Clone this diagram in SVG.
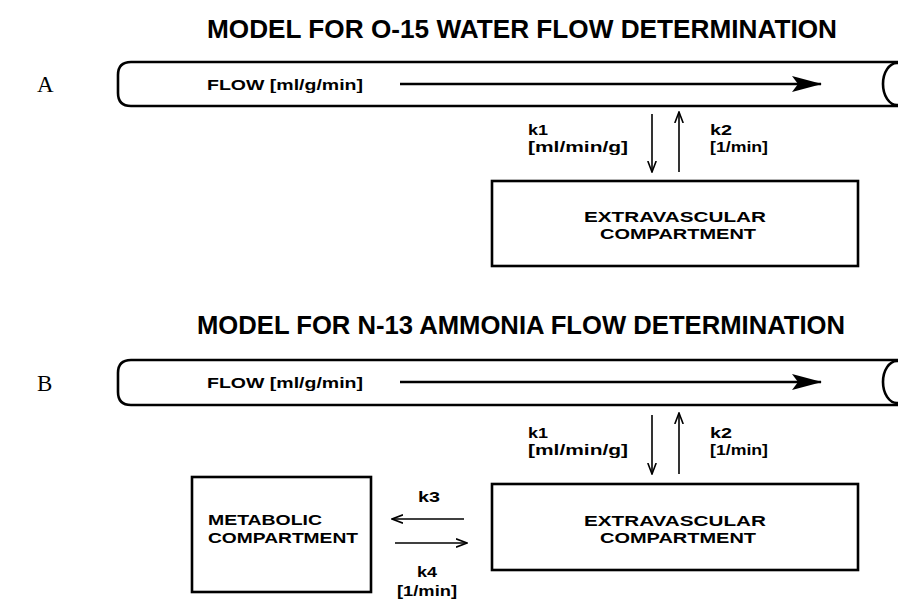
<svg xmlns="http://www.w3.org/2000/svg" width="898" height="601" viewBox="0 0 898 601">
<defs>
<style>
.t{font-family:"Liberation Sans",Arial,sans-serif;font-weight:bold;fill:#000}
.ttl{font-size:26px}
.lab{font-size:14px}
.big{font-family:"Liberation Serif","Times New Roman",serif;font-size:23px;fill:#000}
.ln{stroke:#000;fill:none;stroke-width:2.6}
.thin{stroke:#000;fill:none;stroke-width:1.6}
.box{stroke:#000;fill:#fff;stroke-width:2.6}
</style>
<marker id="flowHead" viewBox="0 0 30 18" refX="29" refY="9" markerWidth="30" markerHeight="18" markerUnits="userSpaceOnUse" orient="auto">
<path d="M0,1 L30,9 L0,17 L6,9 Z" fill="#000"/>
</marker>
<marker id="kHead" viewBox="0 0 12 10" refX="11" refY="5" markerWidth="12" markerHeight="10" markerUnits="userSpaceOnUse" orient="auto">
<path d="M0,0.8 L11,5 L0,9.2" fill="none" stroke="#000" stroke-width="1.6"/>
</marker>
</defs>
<rect width="898" height="601" fill="#fff"/>

<g id="panelA">
<text class="t ttl" x="522" y="38" text-anchor="middle" textLength="630" lengthAdjust="spacingAndGlyphs">MODEL FOR O-15 WATER FLOW DETERMINATION</text>
<text class="big" x="37" y="92">A</text>
<g id="tubeA">
<path class="ln" d="M898,62 H131 Q118,62 118,75 V93 Q118,106 131,106 H898"/>
<ellipse class="ln" cx="897" cy="84" rx="14" ry="21"/>
<text class="t" x="207" y="90" font-size="15" textLength="156" lengthAdjust="spacingAndGlyphs">FLOW [ml/g/min]</text>
</g>
<g id="extraA">
<rect class="box" x="492" y="181" width="366" height="85"/>
<text class="t" x="675" y="222" font-size="15" text-anchor="middle" textLength="182" lengthAdjust="spacingAndGlyphs">EXTRAVASCULAR</text>
<text class="t" x="678" y="239" font-size="15" text-anchor="middle" textLength="156" lengthAdjust="spacingAndGlyphs">COMPARTMENT</text>
</g>
<g id="labelsA">
<text class="t lab" x="528" y="135" textLength="20" lengthAdjust="spacingAndGlyphs">k1</text>
<text class="t lab" x="528" y="152" textLength="100" lengthAdjust="spacingAndGlyphs">[ml/min/g]</text>
<text class="t lab" x="710" y="135" textLength="22" lengthAdjust="spacingAndGlyphs">k2</text>
<text class="t lab" x="710" y="152" textLength="58" lengthAdjust="spacingAndGlyphs">[1/min]</text>
</g>
</g>

<g id="panelB">
<text class="t ttl" x="521" y="334" text-anchor="middle" textLength="648" lengthAdjust="spacingAndGlyphs">MODEL FOR N-13 AMMONIA FLOW DETERMINATION</text>
<text class="big" x="37" y="391">B</text>
<g id="tubeB">
<path class="ln" d="M898,360 H131 Q118,360 118,373 V392 Q118,405 131,405 H898"/>
<ellipse class="ln" cx="897" cy="382" rx="14" ry="21"/>
<text class="t" x="207" y="388" font-size="15" textLength="156" lengthAdjust="spacingAndGlyphs">FLOW [ml/g/min]</text>
</g>
<g id="extraB">
<rect class="box" x="492" y="484" width="366" height="86"/>
<text class="t" x="675" y="526" font-size="15" text-anchor="middle" textLength="182" lengthAdjust="spacingAndGlyphs">EXTRAVASCULAR</text>
<text class="t" x="678" y="543" font-size="15" text-anchor="middle" textLength="156" lengthAdjust="spacingAndGlyphs">COMPARTMENT</text>
</g>
<g id="metabolic">
<rect class="box" x="192" y="477" width="179" height="115"/>
<text class="t" x="208" y="525" font-size="15" textLength="114" lengthAdjust="spacingAndGlyphs">METABOLIC</text>
<text class="t" x="208" y="543" font-size="15" textLength="150" lengthAdjust="spacingAndGlyphs">COMPARTMENT</text>
</g>
<g id="labelsB">
<text class="t lab" x="528" y="438" textLength="20" lengthAdjust="spacingAndGlyphs">k1</text>
<text class="t lab" x="528" y="455" textLength="100" lengthAdjust="spacingAndGlyphs">[ml/min/g]</text>
<text class="t lab" x="710" y="438" textLength="22" lengthAdjust="spacingAndGlyphs">k2</text>
<text class="t lab" x="710" y="455" textLength="58" lengthAdjust="spacingAndGlyphs">[1/min]</text>
<text class="t lab" x="418" y="502" textLength="22" lengthAdjust="spacingAndGlyphs">k3</text>
<text class="t lab" x="417" y="577" textLength="20" lengthAdjust="spacingAndGlyphs">k4</text>
<text class="t lab" x="397" y="596" textLength="60" lengthAdjust="spacingAndGlyphs">[1/min]</text>
</g>
</g>

<g id="connectors">
<line class="ln" x1="400" y1="84" x2="821" y2="84" marker-end="url(#flowHead)"/>
<line class="ln" x1="400" y1="382" x2="821" y2="382" marker-end="url(#flowHead)"/>
<line class="thin" x1="652" y1="114" x2="652" y2="172" marker-end="url(#kHead)"/>
<line class="thin" x1="679" y1="172" x2="679" y2="112" marker-end="url(#kHead)"/>
<line class="thin" x1="652" y1="415" x2="652" y2="474" marker-end="url(#kHead)"/>
<line class="thin" x1="679" y1="474" x2="679" y2="413" marker-end="url(#kHead)"/>
<line class="thin" x1="464" y1="519" x2="392" y2="519" marker-end="url(#kHead)"/>
<line class="thin" x1="395" y1="543" x2="467" y2="543" marker-end="url(#kHead)"/>
</g>
</svg>
